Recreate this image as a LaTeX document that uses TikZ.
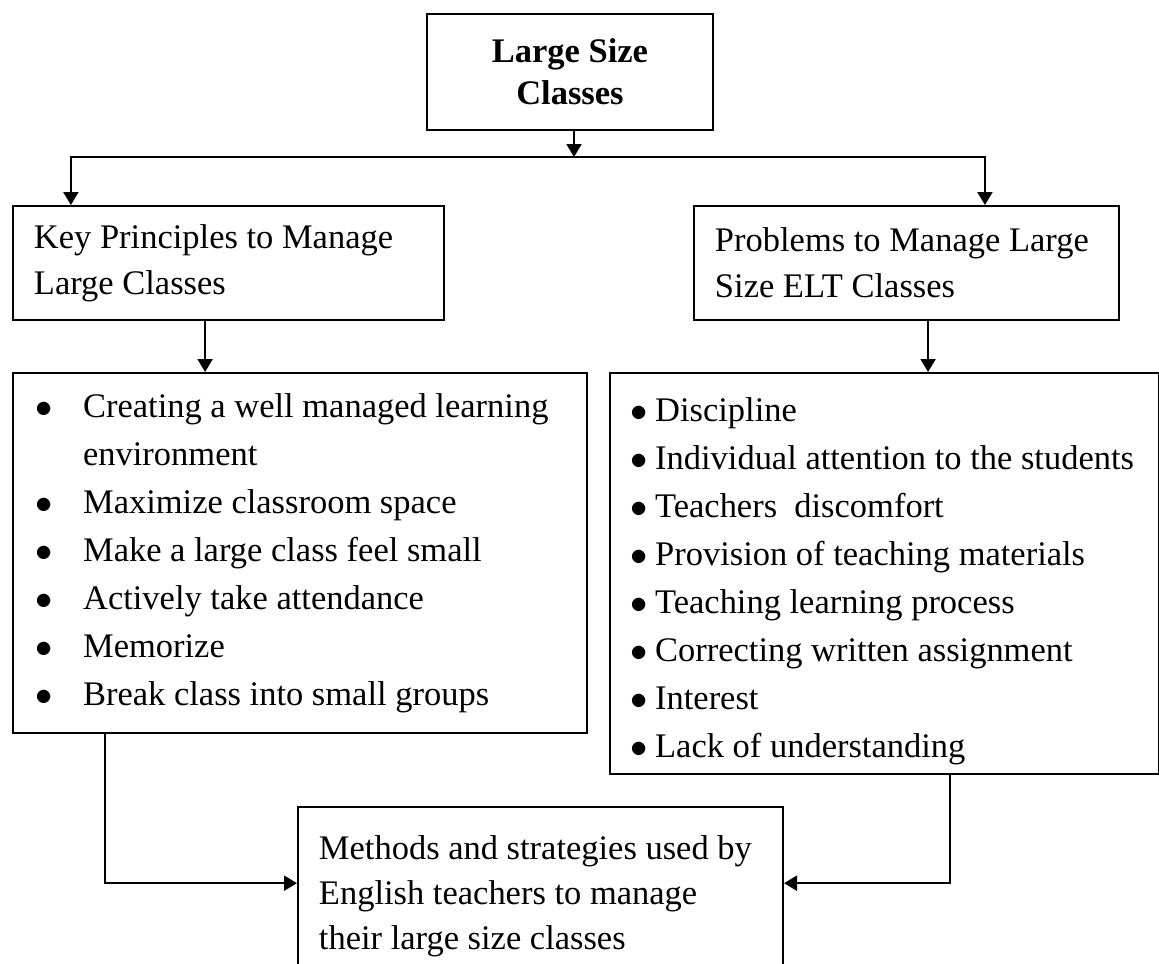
\documentclass[tikz,border=0pt]{standalone}
\usepackage{fontspec}
\setmainfont{Liberation Serif}
\usetikzlibrary{arrows.meta}

% bullets for the two lists
\newcommand{\litem}{\makebox[16.4pt][l]{$\bullet$}}
\newcommand{\ritem}{\makebox[8.7pt][l]{$\bullet$}}

\begin{document}
\begin{tikzpicture}[x=0.348pt,y=-0.348pt]
    \tikzstyle{every node} = [font=\fontsize{12}{16}\selectfont]
    \tikzstyle{block} = [draw, rectangle, line width=0.7pt, anchor=north west, inner ysep=0pt, inner xsep=7.3pt, align=flush left]
    \tikzstyle{conn} = [line width=0.7pt, -{Triangle[length=4.5pt,width=5.2pt]}]
    \useasboundingbox (0,0) rectangle (1159,963);

    % place nodes
    \node[block,align=flush center,minimum width=99.5pt,minimum height=40.4pt,font=\bfseries\fontsize{12}{14.6}\selectfont](largeClasses) at (426,13){Large Size\\Classes};

    \node[block,text width=135.4pt,minimum height=39.7pt](keyPrinciples) at (12,205){Key Principles to Manage\\Large Classes};
    \node[block,text width=133.3pt,minimum height=39.7pt](problems) at (693,205){Problems to Manage Large\\Size ELT Classes};

    \node[block,inner xsep=8pt,text width=183.75pt,minimum height=125.3pt,font=\fontsize{12}{16.7}\selectfont](principleList) at (12,372){%
      \litem Creating a well managed learning\\
      \hspace*{16.4pt}environment\\
      \litem Maximize classroom space\\
      \litem Make a large class feel small\\
      \litem Actively take attendance\\
      \litem Memorize\\
      \litem Break class into small groups};
    % taller first line pushes the list a bit lower in its box
    \node[block,inner xsep=7pt,text width=177pt,minimum height=139.5pt,font=\fontsize{12}{16.7}\selectfont](problemList) at (609,372){%
      \rule{0pt}{13.7pt}\ritem Discipline\\
      \ritem Individual attention to the students\\
      \ritem Teachers~ discomfort\\
      \ritem Provision of teaching materials\\
      \ritem Teaching learning process\\
      \ritem Correcting written assignment\\
      \ritem Interest\\
      \ritem Lack of understanding};

    \node[block,text width=154.2pt,minimum height=62pt,font=\fontsize{12}{15.7}\selectfont](methods) at (297,806){Methods and strategies used by\\English teachers to manage\\their large size classes};

    % Connections
    \coordinate (split) at (574,157);
    \draw[conn] (largeClasses.south -| split) -- (split);
    \draw[conn] (split) -| ([xshift=20.5pt]keyPrinciples.north west);
    \draw[conn] (split) -| ([xshift=-47pt]problems.north east);

    \coordinate (keyDrop) at ([xshift=67.2pt]keyPrinciples.south west);
    \coordinate (probDrop) at ([xshift=81.8pt]problems.south west);
    \draw[conn] (keyDrop) -- (keyDrop |- principleList.north);
    \draw[conn] (probDrop) -- (probDrop |- problemList.north);

    \draw[conn] ([xshift=32.4pt]principleList.south west) |- ([yshift=4.5pt]methods.west);
    \draw[conn] ([xshift=118.7pt]problemList.south west) |- ([yshift=4.5pt]methods.east);
\end{tikzpicture}
\end{document}
